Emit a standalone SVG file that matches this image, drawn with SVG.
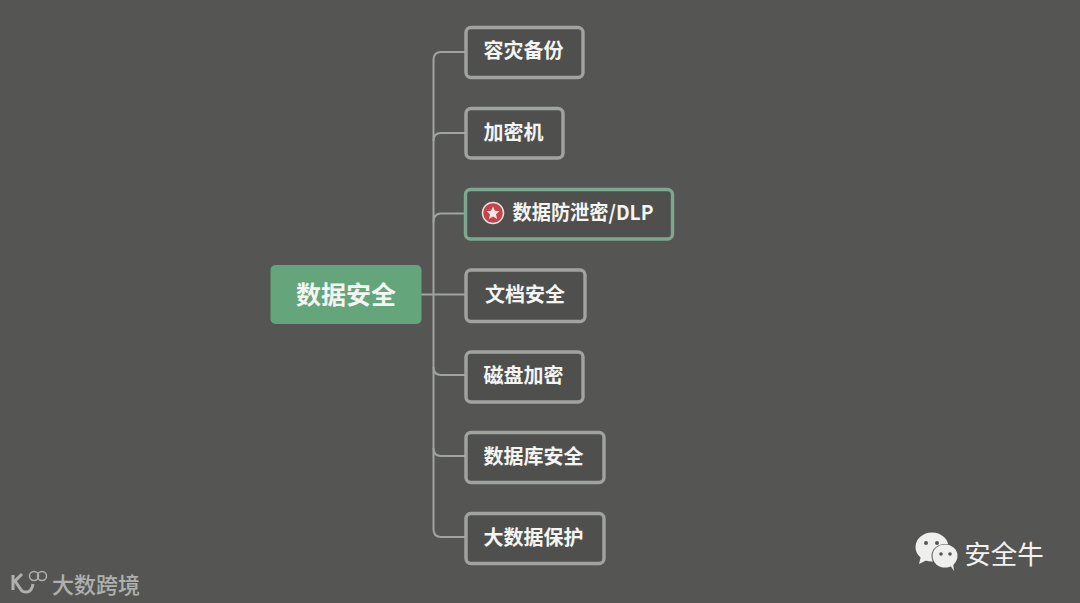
<svg xmlns="http://www.w3.org/2000/svg" width="1080" height="603" viewBox="0 0 1080 603">
<style>
text{font-family:"Noto Sans CJK SC","Noto Sans",sans-serif;}
.box{fill:#4f504d;stroke:#a1a3a0;stroke-width:3.4}
.lab{font-size:20px;font-weight:700;fill:#f4f4f2;text-anchor:middle;dominant-baseline:central}
.conn{fill:none;stroke:#a1a3a0;stroke-width:2}
</style>
<rect width="1080" height="603" fill="#555653"/>
<g id="connectors">
<path class="conn" d="M466 52H441Q433.500 52 433.500 60V529Q433.500 537 441 537H466"/>
<path class="conn" d="M433.500 141Q433.500 133 441 133H466"/>
<path class="conn" d="M433.500 222Q433.500 213.500 441 213.500H466"/>
<path class="conn" d="M421 294.500H466"/>
<path class="conn" d="M433.500 367Q433.500 375 441 375H466"/>
<path class="conn" d="M433.500 448Q433.500 456 441 456H466"/>
</g>
<g id="root"><rect x="270.500" y="265" width="151" height="59" rx="5" fill="#65a57c"/><text x="346" y="292.500" class="lab" style="font-size:25px">数据安全</text></g>
<g id="n1"><rect class="box" x="466" y="27.500" width="117" height="50" rx="5"/><text class="lab" x="523.500" y="49.500">容灾备份</text></g>
<g id="n2"><rect class="box" x="466" y="108.500" width="97" height="49.500" rx="5"/><text class="lab" x="513.500" y="131">加密机</text></g>
<g id="n3"><rect class="box" style="stroke:#7ba88e" x="465.500" y="189.500" width="207" height="49.500" rx="5"/>
<circle cx="493" cy="213" r="10.500" fill="#c5434a" stroke="#ecdcdc" stroke-width="1.500"/><path d="M493 206.500l1.900 4.300 4.600.4-3.500 3.100 1.100 4.600-4.100-2.500-4.100 2.500 1.100-4.600-3.500-3.100 4.600-.4z" fill="#f3e9e6"/>
<text class="lab" x="583" y="211.500" textLength="141" lengthAdjust="spacingAndGlyphs">数据防泄密/DLP</text></g>
<g id="n4"><rect class="box" x="466" y="270" width="119" height="51.500" rx="5"/><text class="lab" x="525" y="293">文档安全</text></g>
<g id="n5"><rect class="box" x="466" y="352" width="117" height="50" rx="5"/><text class="lab" x="523.500" y="374">磁盘加密</text></g>
<g id="n6"><rect class="box" x="466" y="432.500" width="138" height="50" rx="5"/><text class="lab" x="533.500" y="455">数据库安全</text></g>
<g id="n7"><rect class="box" x="466" y="513.500" width="138" height="50" rx="5"/><text class="lab" x="533.500" y="536">大数据保护</text></g>
<g id="logo-wechat">
<ellipse cx="932" cy="547" rx="16.500" ry="14.500" fill="#efefed"/><path d="M921 556l-2 8 8-4z" fill="#efefed"/>
<ellipse cx="945" cy="556" rx="13.500" ry="12" fill="#555653"/>
<ellipse cx="945" cy="556" rx="12.500" ry="11.500" fill="#efefed"/><path d="M950 565l4 6-1-8z" fill="#efefed"/>
<circle cx="926" cy="543" r="2" fill="#555653"/><circle cx="937" cy="543" r="2" fill="#555653"/>
<circle cx="941" cy="554" r="1.800" fill="#555653"/><circle cx="950" cy="554" r="1.800" fill="#555653"/>
<text x="1004" y="552.500" font-size="26.500" fill="#f2f2f0" text-anchor="middle" dominant-baseline="central">安全牛</text>
</g>
<g id="logo-bj">
<path d="M13 575V590" fill="none" stroke="#b0b1ae" stroke-width="3"/>
<path d="M22 574L15 581L22 591Q31 595 33 584" fill="none" stroke="#b0b1ae" stroke-width="3"/>
<circle cx="34" cy="576" r="4.500" fill="none" stroke="#b0b1ae" stroke-width="1.500"/><circle cx="42" cy="576" r="4.500" fill="none" stroke="#b0b1ae" stroke-width="1.500"/>
<text x="96" y="582.500" font-size="22" font-weight="500" fill="#b0b1ae" text-anchor="middle" dominant-baseline="central">大数跨境</text>
</g>
</svg>
